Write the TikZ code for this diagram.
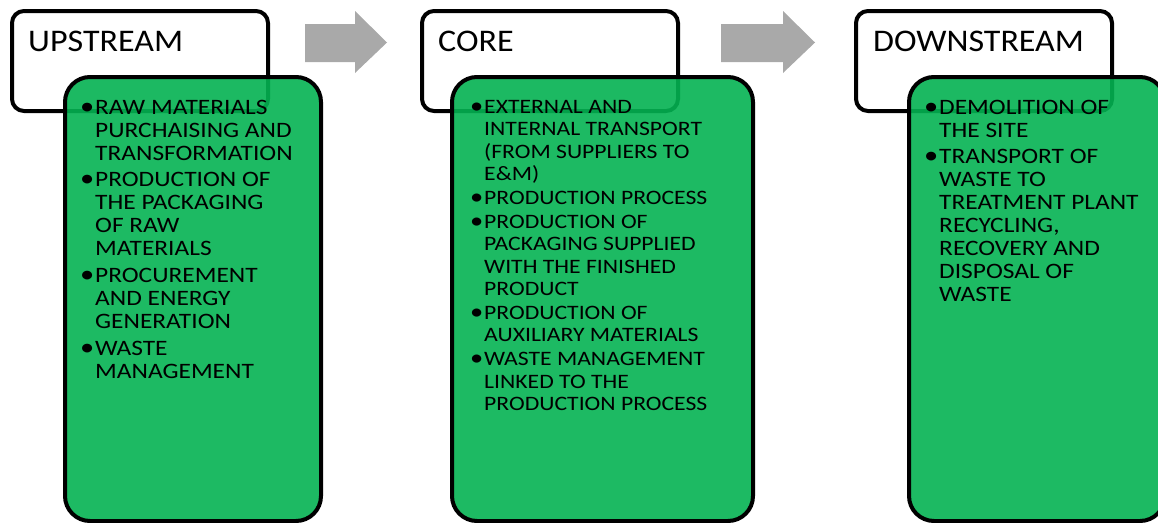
\documentclass[tikz,border=0pt]{standalone}
\usepackage{fontspec}
\setmainfont{Carlito}
\newfontfamily\bodyfont{Carlito}[FakeStretch=1.155]
\newfontfamily\headfont{Carlito}[FakeStretch=1.08]
\definecolor{boxgreen}{RGB}{4,178,82}
\definecolor{arrowgray}{RGB}{169,169,169}
\tikzset{
  titlebox/.style={draw=black, line width=4pt, rounded corners=12pt, fill=white,
    inner sep=0pt, anchor=north west},
  itembox/.style={draw=black, line width=4pt, rounded corners=25pt, fill=boxgreen,
    fill opacity=0.9, draw opacity=1, inner sep=0pt, anchor=north west},
  titletext/.style={font=\headfont\fontsize{31.5}{36}\selectfont, inner sep=0pt, anchor=base west},
  bodytext/.style={align=left, inner sep=0pt, anchor=north west},
  flowarrow/.style={fill=arrowgray},
}
\newcommand{\bul}{\llap{\scalebox{1.12}{\textbullet}\hspace{0.8pt}}}
\begin{document}
\begin{tikzpicture}[x=1pt,y=-1pt]
\useasboundingbox (0,0) rectangle (1158,522);
\clip (0,0) rectangle (1158,522);
% arrows
\fill[flowarrow] (305,24) -- (355,24) -- (355,11) -- (387,42.5) -- (355,73) -- (355,62) -- (305,62) -- cycle;
\fill[flowarrow] (721,24) -- (783,24) -- (783,11) -- (815,42.5) -- (783,73) -- (783,62) -- (721,62) -- cycle;
% upstream
\node[titlebox, minimum width=256pt, minimum height=100pt] (upT) at (10,9) {};
\node[titletext] (upL) at (28,51) {UPSTREAM};
\node[itembox, minimum width=256pt, minimum height=444pt] (upB) at (63,75) {};
\node[bodytext, font=\bodyfont\fontsize{22}{23}\selectfont] (upX) at (95,100) {%
\bul RAW MATERIALS\\
PURCHAISING AND\\
TRANSFORMATION\\[3.5pt]
\bul PRODUCTION OF\\
THE PACKAGING\\
OF RAW\\
MATERIALS\\[3.5pt]
\bul PROCUREMENT\\
AND ENERGY\\
GENERATION\\[4pt]
\bul WASTE\\
MANAGEMENT};
% core
\node[titlebox, minimum width=256pt, minimum height=100pt] (coT) at (420,9) {};
\node[titletext] (coL) at (438,51) {CORE};
\node[itembox, minimum width=301pt, minimum height=444pt] (coB) at (450,75) {};
\node[bodytext, font=\bodyfont\fontsize{20.5}{22.4}\selectfont] (coX) at (484,100) {%
\bul EXTERNAL AND\\
INTERNAL TRANSPORT\\
(FROM SUPPLIERS TO\\
E\&M)\\[1.5pt]
\bul PRODUCTION PROCESS\\[1.5pt]
\bul PRODUCTION OF\\
PACKAGING SUPPLIED\\
WITH THE FINISHED\\
PRODUCT\\[1.5pt]
\bul PRODUCTION OF\\
AUXILIARY MATERIALS\\[1.5pt]
\bul WASTE MANAGEMENT\\
LINKED TO THE\\
PRODUCTION PROCESS};
% downstream
\node[titlebox, minimum width=256pt, minimum height=100pt] (dnT) at (854,9) {};
\node[titletext] (dnL) at (873,51) {DOWNSTREAM};
\node[itembox, minimum width=256pt, minimum height=444pt] (dnB) at (907,75) {};
\node[bodytext, font=\bodyfont\fontsize{22}{23}\selectfont] (dnX) at (939,100) {%
\bul DEMOLITION OF\\
THE SITE\\[3.5pt]
\bul TRANSPORT OF\\
WASTE TO\\
TREATMENT PLANT\\
RECYCLING,\\
RECOVERY AND\\
DISPOSAL OF\\
WASTE};
\end{tikzpicture}
\end{document}
